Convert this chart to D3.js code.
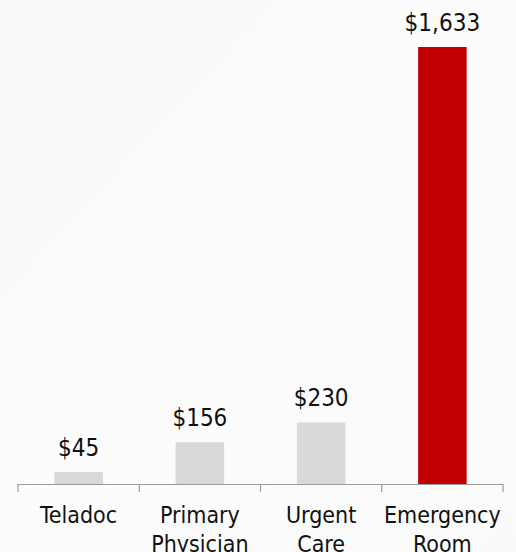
<!DOCTYPE html>
<html>
<head>
<meta charset="utf-8">
<script src="https://cdn.jsdelivr.net/npm/d3@7"></script>
<style>
  html, body { margin: 0; padding: 0; background: #fbfbfb; }
  svg { display: block; }
</style>
</head>
<body>
<svg id="chart" width="516" height="552"></svg>
<script>
const categories = ["Teladoc", "Primary Physician", "Urgent Care", "Emergency Room"];
const values = [45, 156, 230, 1633];
const valueLabels = ["$45", "$156", "$230", "$1,633"];
const barColors = ["#d9d9d9", "#d9d9d9", "#d9d9d9", "#c00000"];

const W = 516, H = 552;
const svg = d3.select("#chart");
const font = "'DejaVu Sans Condensed', 'DejaVu Sans', sans-serif";

// subtle background
const defs = svg.append("defs");
const grad = defs.append("linearGradient").attr("id", "bg").attr("x1", 0).attr("y1", 0).attr("x2", 1).attr("y2", 1);
grad.append("stop").attr("offset", "0%").attr("stop-color", "#f8f8f8");
grad.append("stop").attr("offset", "50%").attr("stop-color", "#fcfcfc");
grad.append("stop").attr("offset", "100%").attr("stop-color", "#fafafa");
svg.append("rect").attr("width", W).attr("height", H).attr("fill", "url(#bg)");

const left = 18, right = 503, baseY = 484, topY = 47;

const xAxisScale = d3.scaleBand().domain(categories).range([left, right]).padding(0);
const xBar = d3.scaleBand().domain(categories).range([left, right]).paddingInner(0.6).paddingOuter(0.3);
const y = d3.scaleLinear().domain([0, d3.max(values)]).range([baseY, topY]);

const data = categories.map((c, i) => ({ c, v: values[i], label: valueLabels[i], color: barColors[i] }));

// bars
svg.append("g").selectAll("rect").data(data).join("rect")
  .attr("x", d => xBar(d.c))
  .attr("y", d => y(d.v))
  .attr("width", xBar.bandwidth())
  .attr("height", d => baseY - y(d.v))
  .attr("fill", d => d.color);

// value labels
svg.append("g").selectAll("text").data(data).join("text")
  .attr("x", d => xBar(d.c) + xBar.bandwidth() / 2)
  .attr("y", d => y(d.v) - 16)
  .attr("text-anchor", "middle")
  .attr("font-family", font)
  .attr("font-size", 24)
  .attr("fill", "#111")
  .text(d => d.label);

// axis line and ticks
const axisG = svg.append("g");
axisG.append("line")
  .attr("x1", left).attr("x2", right)
  .attr("y1", baseY + 0.5).attr("y2", baseY + 0.5)
  .attr("stroke", "#9a9a9a").attr("stroke-width", 1.2);
const tickPos = categories.map(c => xAxisScale(c)).concat([right]);
axisG.selectAll("line.tick").data(tickPos).join("line")
  .attr("class", "tick")
  .attr("x1", d => d).attr("x2", d => d)
  .attr("y1", baseY).attr("y2", baseY + 8)
  .attr("stroke", "#9a9a9a").attr("stroke-width", 1.2);

// category labels
const catG = svg.append("g");
categories.forEach(c => {
  const lines = c.split(" ");
  const t = catG.append("text")
    .attr("x", xAxisScale(c) + xAxisScale.bandwidth() / 2)
    .attr("y", 523)
    .attr("text-anchor", "middle")
    .attr("font-family", font)
    .attr("font-size", 23)
    .attr("fill", "#111");
  lines.forEach((ln, i) => {
    t.append("tspan")
      .attr("x", xAxisScale(c) + xAxisScale.bandwidth() / 2)
      .attr("dy", i === 0 ? 0 : 29)
      .text(ln);
  });
});
</script>
</body>
</html>
